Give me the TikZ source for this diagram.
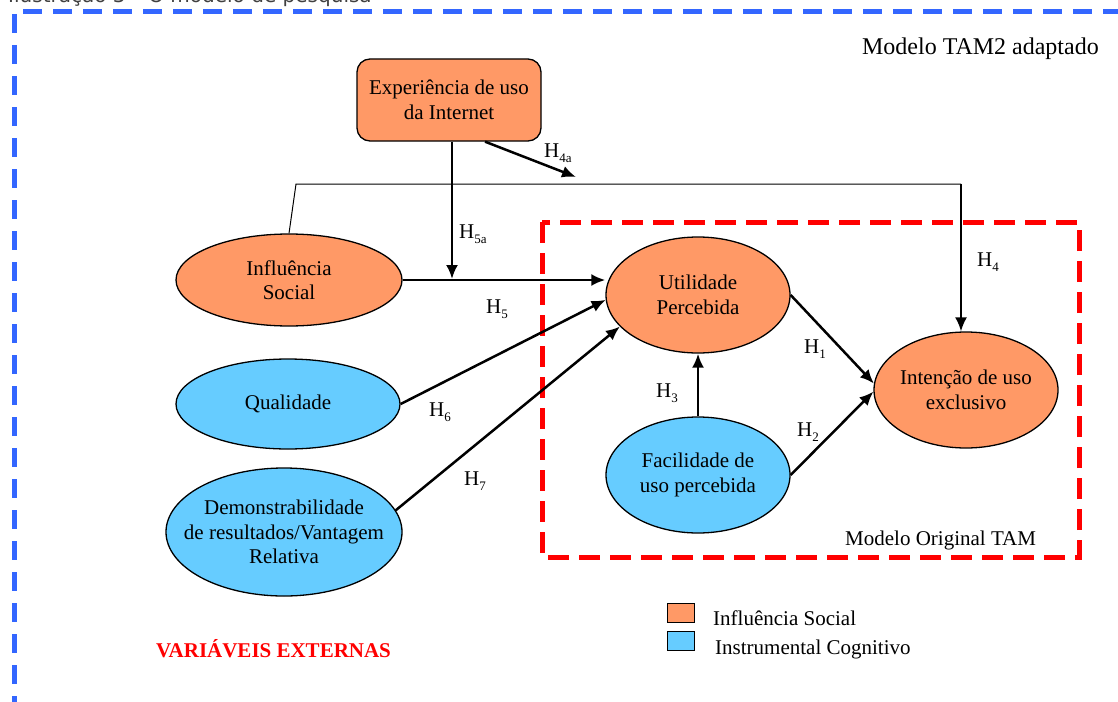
\documentclass[tikz,border=0pt]{standalone}
\usepackage{fontspec}
\setmainfont{Liberation Serif}
\newfontfamily\captionsans{DejaVu Sans}
\usetikzlibrary{arrows.meta,shapes.geometric}
\usepackage{xcolor}
\definecolor{tamOrange}{HTML}{FF9966}
\definecolor{tamBlue}{HTML}{66CCFF}
\definecolor{frameBlue}{HTML}{3366FF}
\definecolor{tamRed}{HTML}{FF0000}
\newcommand{\hyp}[1]{H\raisebox{-5pt}{\fontsize{13}{13}\selectfont #1}}

\begin{document}
\begin{tikzpicture}[x=1pt,y=-1pt,>={Latex[length=14pt,width=12pt]},font=\fontsize{21}{24.5}\selectfont]
\tikzstyle{social}=[ellipse,draw,line width=1.3pt,fill=tamOrange,inner sep=-10pt,align=center]
\tikzstyle{cognit}=[ellipse,draw,line width=1.3pt,fill=tamBlue,inner sep=-10pt,align=center]
\tikzstyle{hlab}=[anchor=base west,inner sep=0pt]
\tikzstyle{arr}=[->,line width=2.5pt]
\tikzstyle{legbox}=[draw,line width=1pt,minimum width=27pt,minimum height=19pt,inner sep=0pt]
\clip (0,0) rectangle (1118,701);
\node[anchor=base west,inner sep=0pt,text=black!75,font=\captionsans\fontsize{20}{20}\selectfont] (title) at (8,2.5) {Ilustração 3 – O modelo de pesquisa};
\draw[frameBlue,line width=5pt,dash pattern=on 19pt off 12pt] (14,14) -- (14,720);
\draw[frameBlue,line width=5pt,dash pattern=on 19pt off 11pt] (23,12) -- (1130,12);
\draw[tamRed,line width=5pt,dash pattern=on 21pt off 10pt] (542,222) rectangle (1079,557);
\node[anchor=base east,inner sep=0pt,font=\fontsize{24}{26}\selectfont] (tam2) at (1099,55) {Modelo TAM2 adaptado};
\node[anchor=base west,inner sep=0pt] (tam) at (845,545) {Modelo Original TAM};
\node[draw,line width=1.3pt,fill=tamOrange,rounded corners=13pt,minimum width=184pt,minimum height=82pt,align=center] (exp) at (449,100) {Experiência de uso\\da Internet};
\node[social,minimum width=226pt,minimum height=92pt] (infl) at (289,280) {Influência\\Social};
\node[cognit,minimum width=224pt,minimum height=90pt] (qual) at (288,404) {Qualidade};
\node[cognit,inner xsep=-22pt,minimum width=236pt,minimum height=128pt] (demo) at (284,532) {Demonstrabilidade\\de resultados/Vantagem\\Relativa};
\node[social,minimum width=184pt,minimum height=116pt] (util) at (698,295) {Utilidade\\Percebida};
\node[cognit,minimum width=184pt,minimum height=116pt] (fac) at (698,475) {Facilidade de\\uso percebida};
\node[social,minimum width=184pt,minimum height=116pt] (int) at (966,390) {Intenção de uso\\exclusivo};
\coordinate (h5a) at (452,279);
\coordinate (h4a) at (576,177);
\coordinate (bend) at (961,184);
\draw[arr] (h5a |- exp.south) -- (h5a);
\draw[arr] ([xshift=36pt]exp.south) -- (h4a);
\draw[line width=1pt] (infl.north) -- (296,184) -- (bend);
\draw[->,line width=2pt] (bend) -- (bend |- int.north);
\draw[arr] (infl.east) -- (util.west |- infl.east);
\draw[arr] (qual.east) -- (util.183);
\draw[arr] (demo.11) -- (util.202);
\draw[arr] (fac.north) -- (util.south);
\draw[arr] (util.east) -- (int.176);
\draw[arr] (fac.east) -- (int.181);
\node[hlab] (l4a) at (544,157) {\hyp{4a}};
\node[hlab] (l5a) at (459,238) {\hyp{5a}};
\node[hlab] (l4) at (977,266) {\hyp{4}};
\node[hlab] (l5) at (486,313) {\hyp{5}};
\node[hlab] (l6) at (429,416) {\hyp{6}};
\node[hlab] (l7) at (464,485) {\hyp{7}};
\node[hlab] (l1) at (804,353) {\hyp{1}};
\node[hlab] (l3) at (656,397) {\hyp{3}};
\node[hlab] (l2) at (797,436) {\hyp{2}};
\node[legbox,fill=tamOrange] (kso) at (680.5,612.5) {};
\node[legbox,fill=tamBlue] (kco) at (680.5,640.5) {};
\node[anchor=base west,inner sep=0pt] (kst) at (713,625) {Influência Social};
\node[anchor=base west,inner sep=0pt] (kct) at (715,654) {Instrumental Cognitivo};
\node[anchor=base west,inner sep=0pt,text=tamRed,font=\fontsize{21}{24}\selectfont\bfseries] (ext) at (156,657) {VARIÁVEIS EXTERNAS};
\end{tikzpicture}
\end{document}
